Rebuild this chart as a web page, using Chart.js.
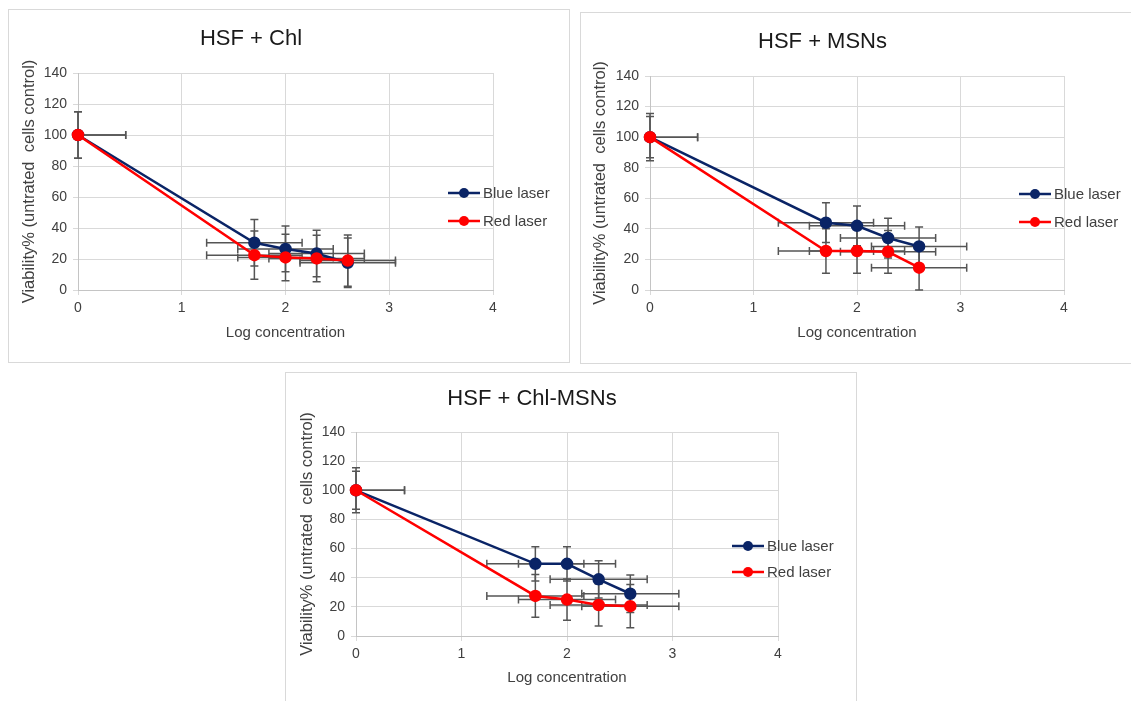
<!DOCTYPE html>
<html>
<head>
<meta charset="utf-8">
<script src="https://cdn.jsdelivr.net/npm/chart.js@4.4.1/dist/chart.umd.min.js"></script>
<style>
  html, body { margin: 0; padding: 0; background: #fff; overflow: hidden; }
  .panel { position: absolute; border: 1px solid #d9d9d9; background: #fff; }
  .panel canvas { display: block; }
</style>
</head>
<body>
<div class="panel" style="left:8px;top:9px;"><canvas id="c1" width="560" height="352"></canvas></div>
<div class="panel" style="left:580px;top:12px;"><canvas id="c2" width="552" height="350"></canvas></div>
<div class="panel" style="left:285px;top:372px;"><canvas id="c3" width="570" height="332"></canvas></div>
<script>
// log concentration (x) and its error, shared by all panels
const logConc = [0, 1.7, 2, 2.3, 2.6];
const xErr = [0.46, 0.46, 0.46, 0.46, 0.46];
const xTicks = [0, 1, 2, 3, 4];
const yTicks = [0, 20, 40, 60, 80, 100, 120, 140];

// HSF + Chl
const chlBlue = [100, 30.5, 26.5, 23.5, 17.6];
const chlBlueErr = [15, 15, 14.8, 15, 16];
const chlRed = [100, 22.5, 21, 20.4, 19];
const chlRedErr = [15, 15.5, 15, 15, 16.5];

// HSF + MSNs
const msnBlue = [100, 44, 42, 34, 28.5];
const msnBlueErr = [15.5, 13, 13, 13, 12.7];
const msnRed = [100, 25.5, 25.5, 25, 14.6];
const msnRedErr = [13.5, 14.6, 14.6, 14, 14.6];

// HSF + Chl-MSNs
const cmBlue = [100, 49.5, 49.5, 38.9, 29];
const cmBlueErr = [15.5, 11.8, 11.8, 12.8, 12.8];
const cmRed = [100, 27.5, 25, 21.3, 20.5];
const cmRedErr = [13, 14.7, 14.2, 14.4, 14.8];

const seriesNames = ['Blue laser', 'Red laser'];
const xTitle = 'Log concentration';
const yTitle = 'Viability% (untrated  cells control)';

const FONT = '"Liberation Sans", Arial, sans-serif';
const BLUE = '#0a2466';
const RED = '#ff0000';

// error bars (x and y) drawn with the chart scales; x bars cut at the plot edges
const errorBars = {
  id: 'errorBars',
  beforeDatasetsDraw(chart) {
    const {ctx, chartArea, scales} = chart;
    ctx.save();
    ctx.strokeStyle = '#555555';
    ctx.lineWidth = 1.5;
    const cap = 4;
    chart.data.datasets.forEach(ds => {
      ds.data.forEach((p, i) => {
        const px = scales.x.getPixelForValue(p.x);
        const py = scales.y.getPixelForValue(p.y);
        const y1 = scales.y.getPixelForValue(p.y + ds.errY[i]);
        const y2 = scales.y.getPixelForValue(p.y - ds.errY[i]);
        const x1raw = scales.x.getPixelForValue(p.x - ds.errX[i]);
        const x2raw = scales.x.getPixelForValue(p.x + ds.errX[i]);
        const x1 = Math.max(x1raw, chartArea.left);
        const x2 = Math.min(x2raw, chartArea.right);
        ctx.beginPath();
        ctx.moveTo(px, y1); ctx.lineTo(px, y2);
        ctx.moveTo(px - cap, y1); ctx.lineTo(px + cap, y1);
        ctx.moveTo(px - cap, y2); ctx.lineTo(px + cap, y2);
        ctx.moveTo(x1, py); ctx.lineTo(x2, py);
        if (x1 === x1raw) { ctx.moveTo(x1, py - cap); ctx.lineTo(x1, py + cap); }
        if (x2 === x2raw) { ctx.moveTo(x2, py - cap); ctx.lineTo(x2, py + cap); }
        ctx.stroke();
      });
    });
    ctx.restore();
  }
};

// excel-like legend: line with marker, placed over the right edge of the plot
const lineLegend = {
  id: 'lineLegend',
  afterDraw(chart, args, opts) {
    const {ctx, chartArea} = chart;
    ctx.save();
    ctx.font = '15px ' + FONT;
    ctx.textBaseline = 'middle';
    ctx.textAlign = 'left';
    [0, 1].forEach((di, k) => {
      const ds = chart.data.datasets[di];
      const x = chartArea.right + opts.dx;
      const y = opts.top + k * opts.gap;
      ctx.strokeStyle = ds.borderColor;
      ctx.lineWidth = 2.5;
      ctx.beginPath();
      ctx.moveTo(x, y); ctx.lineTo(x + 32, y);
      ctx.stroke();
      ctx.fillStyle = ds.borderColor;
      ctx.beginPath();
      ctx.arc(x + 16, y, 5, 0, Math.PI * 2);
      ctx.fill();
      ctx.fillStyle = '#404040';
      ctx.fillText(ds.label, x + 35, y + 1);
    });
    ctx.restore();
  }
};

function points(ys) {
  return logConc.map((x, i) => ({x: x, y: ys[i]}));
}

function makeChart(id, title, blue, blueErr, red, redErr, lay) {
  new Chart(document.getElementById(id), {
    type: 'line',
    data: {
      datasets: [
        {label: seriesNames[0], data: points(blue), errY: blueErr, errX: xErr,
         borderColor: BLUE, backgroundColor: BLUE, pointBackgroundColor: BLUE, pointBorderColor: BLUE,
         borderWidth: 2.5, pointRadius: 5, tension: 0, order: 1, clip: false},
        {label: seriesNames[1], data: points(red), errY: redErr, errX: xErr,
         borderColor: RED, backgroundColor: RED, pointBackgroundColor: RED, pointBorderColor: RED,
         borderWidth: 2.5, pointRadius: 5, tension: 0, order: 0, clip: false}
      ]
    },
    options: {
      responsive: false,
      animation: false,
      layout: {padding: {left: 0, right: lay.padRight, top: 0, bottom: 0}},
      plugins: {
        legend: {display: false},
        tooltip: {enabled: false},
        title: {
          display: true, text: title, color: '#1a1a1a',
          font: {family: FONT, size: 22, weight: 'normal'},
          padding: {top: lay.titleTop, bottom: lay.titleBottom}
        },
        lineLegend: {dx: lay.legDx, top: lay.legTop, gap: lay.legGap}
      },
      scales: {
        x: {
          type: 'linear', min: 0, max: 4,
          afterBuildTicks: s => { s.ticks = xTicks.map(v => ({value: v})); },
          afterFit: s => { s.height = lay.xH; },
          grid: {color: '#d9d9d9', tickLength: 5},
          border: {color: '#c4c4c4'},
          ticks: {color: '#404040', padding: 5, font: {family: FONT, size: 14}},
          title: {display: true, text: xTitle, color: '#404040',
                  font: {family: FONT, size: 15}, padding: {top: 0, bottom: lay.xTitlePad}}
        },
        y: {
          min: 0, max: 140,
          afterBuildTicks: s => { s.ticks = yTicks.map(v => ({value: v})); },
          afterFit: s => { s.width = lay.yW; },
          grid: {color: '#d9d9d9', tickLength: 5},
          border: {color: '#c4c4c4'},
          ticks: {color: '#404040', padding: 6, font: {family: FONT, size: 14}},
          title: {display: true, text: yTitle, color: '#404040',
                  font: {family: FONT, size: 16.5}, padding: {top: lay.yTitlePad, bottom: 0}}
        }
      }
    },
    plugins: [errorBars, lineLegend]
  });
}

makeChart('c1', 'HSF + Chl', chlBlue, chlBlueErr, chlRed, chlRedErr,
  {padRight: 76, yW: 69, xH: 72, titleTop: 15.5, titleBottom: 21.1, xTitlePad: 20, yTitlePad: 11,
   legDx: -45, legTop: 183, legGap: 28});
makeChart('c2', 'HSF + MSNs', msnBlue, msnBlueErr, msnRed, msnRedErr,
  {padRight: 69, yW: 69, xH: 73, titleTop: 15.5, titleBottom: 21.1, xTitlePad: 21, yTitlePad: 9.6,
   legDx: -45, legTop: 181, legGap: 28});
makeChart('c3', 'HSF + Chl-MSNs', cmBlue, cmBlueErr, cmRed, cmRedErr,
  {padRight: 78, yW: 70, xH: 69, titleTop: 13, titleBottom: 19.6, xTitlePad: 18, yTitlePad: 11.8,
   legDx: -46, legTop: 173, legGap: 26});
</script>
</body>
</html>
